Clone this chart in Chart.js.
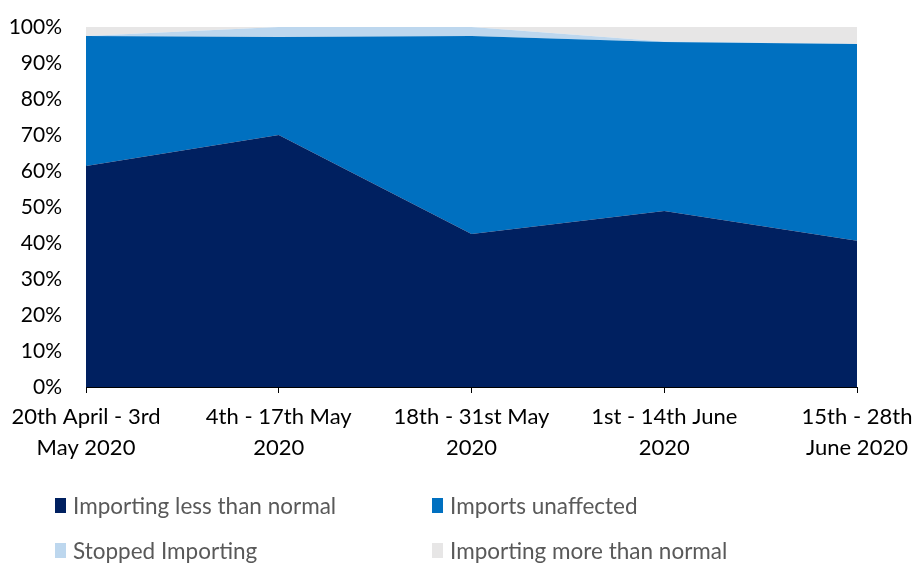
<!doctype html>
<html lang="en">
<head>
<meta charset="utf-8" />
<title>Importing status</title>
<script src="https://cdn.jsdelivr.net/npm/chart.js@4.4.4/dist/chart.umd.min.js"></script>
<style>
  body { margin: 0; background: #fff; font-family: Lato, "Open Sans", sans-serif; }
  .wrap { position: relative; width: 912px; height: 563px; }
  #chart { position: absolute; left: 0; top: 0; }
  .legend { position: absolute; left: 0; top: 0; width: 912px; height: 563px; pointer-events: none; }
  .legend .item { position: absolute; display: flex; align-items: center; font-size: 22.5px; color: #595959; }
  .legend .box { width: 11px; height: 15px; margin-right: 7px; }
</style>
</head>
<body>
<div class="wrap">
  <canvas id="chart" width="912" height="470"></canvas>
  <div class="legend" id="legend"></div>
</div>
<script>
const periods = [
  ["20th April - 3rd", "May 2020"],
  ["4th - 17th May", "2020"],
  ["18th - 31st May", "2020"],
  ["1st - 14th June", "2020"],
  ["15th - 28th", "June 2020"],
];
const lessThanNormal = [61.4, 70.0, 42.5, 48.9, 40.6];
const unaffected = [36.1, 27.2, 55.0, 46.9, 54.7];
const stopped = [0.0, 2.8, 2.5, 0.2, 0.0];
const moreThanNormal = [2.5, 0.0, 0.0, 4.0, 4.7];
const yTicks = [0, 10, 20, 30, 40, 50, 60, 70, 80, 90, 100];

const series = [
  { label: "Importing less than normal", data: lessThanNormal, color: "#002060" },
  { label: "Imports unaffected", data: unaffected, color: "#0070C0" },
  { label: "Stopped Importing", data: stopped, color: "#BDD7EE" },
  { label: "Importing more than normal", data: moreThanNormal, color: "#E7E6E6" },
];

const FONT = "Lato, 'Open Sans', sans-serif";

new Chart(document.getElementById("chart"), {
  type: "line",
  data: {
    labels: periods,
    datasets: series.map((s, i) => ({
      label: s.label,
      data: s.data,
      backgroundColor: s.color,
      borderColor: s.color,
      borderWidth: 0,
      pointRadius: 0,
      tension: 0,
      fill: i === 0 ? "origin" : "-1",
    })),
  },
  options: {
    responsive: false,
    animation: false,
    layout: { padding: { top: 27, right: 55, left: 0, bottom: 0 } },
    plugins: { legend: { display: false }, tooltip: { enabled: false } },
    scales: {
      x: {
        offset: false,
        grid: { display: true, drawOnChartArea: false, drawTicks: true, tickLength: 6, color: "#000" },
        border: { color: "#000", width: 1 },
        ticks: { color: "#000", font: { family: FONT, size: 22, lineHeight: 1.4 }, maxRotation: 0, autoSkip: false, padding: 9 },
        afterFit: (scale) => {
          scale.height = 83;
          scale.paddingLeft = 0;
          scale.paddingRight = 0;
        },
      },
      y: {
        stacked: true,
        min: 0,
        max: 100,
        afterBuildTicks: (scale) => { scale.ticks = yTicks.map((v) => ({ value: v })); },
        grid: { display: false, drawTicks: false },
        border: { color: "#000", width: 1 },
        ticks: { color: "#000", font: { family: FONT, size: 21 }, padding: 24, callback: (v) => v + "%" },
        afterFit: (scale) => {
          scale.width = 86;
          scale.paddingTop = 0;
          scale.paddingBottom = 0;
        },
      },
    },
  },
});

// two-column legend under the chart
const legendPos = [
  { left: 55, top: 492 },
  { left: 432, top: 492 },
  { left: 55, top: 537 },
  { left: 432, top: 537 },
];
const legendEl = document.getElementById("legend");
series.forEach((s, i) => {
  const item = document.createElement("div");
  item.className = "item";
  item.style.left = legendPos[i].left + "px";
  item.style.top = legendPos[i].top + "px";
  item.innerHTML = `<span class="box" style="background:${s.color}"></span><span>${s.label}</span>`;
  legendEl.appendChild(item);
});
</script>
</body>
</html>
